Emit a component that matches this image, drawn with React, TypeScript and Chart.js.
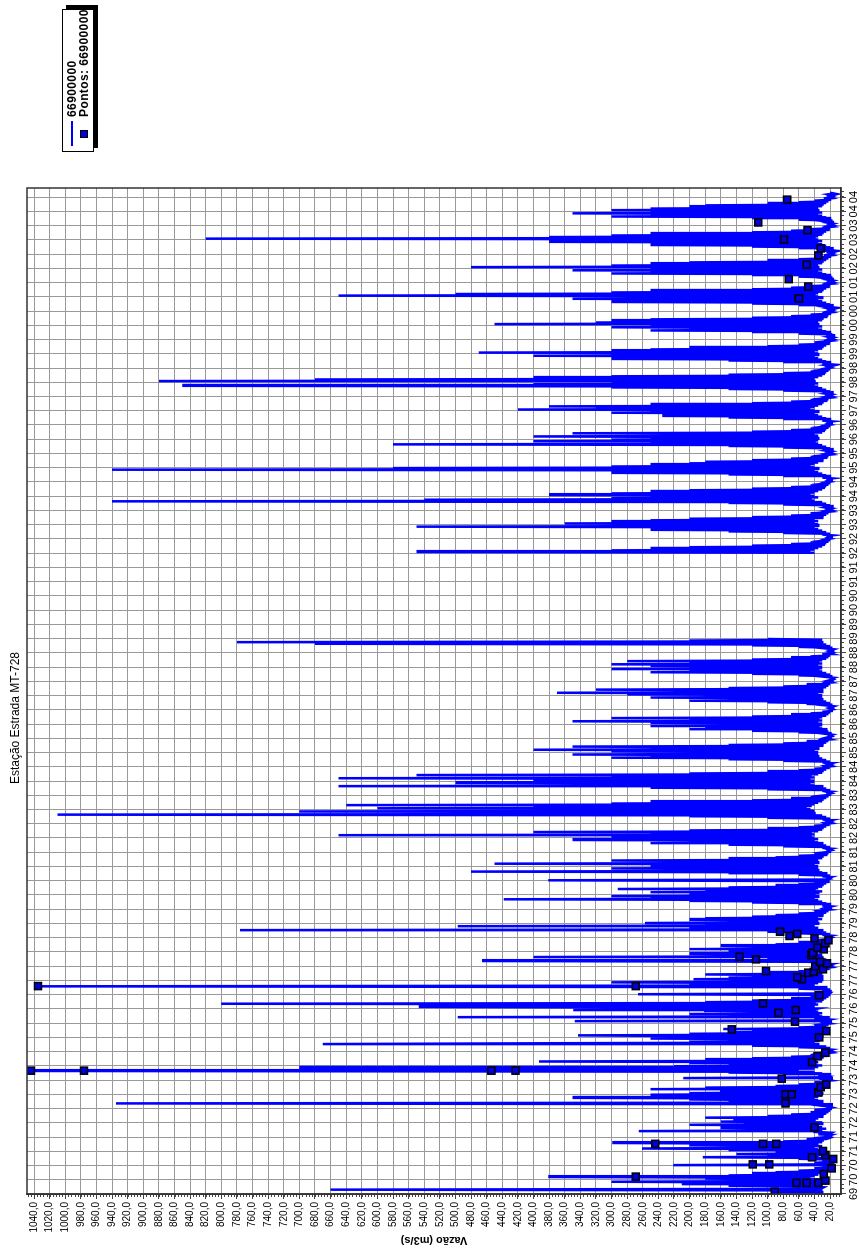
import React, { useEffect, useRef } from "react";
import { Chart, registerables } from "chart.js";
Chart.register(...registerables);

const TITLE = "Estação Estrada MT-728";
const SERIES_NAME = "66900000";
const POINTS_NAME = "Pontos: 66900000";
const Y_TITLE = "Vazão (m3/s)";

const X_MIN = 1969.5;
const X_MAX = 2004.82;
const X_STEP = 0.5;
const Y_MIN = 6;
const Y_MAX = 1049;
const Y_STEP = 20;

// daily-flow envelope, ~10-day slots per year
const Q1969 = [40, 30, 95, 40, 30, 660, 60, 30, 28, 45, 150, 35, 210, 40, 65, 300, 40, 28];
const Q1970 = [30, 180, 45, 381, 40, 150, 35, 120, 30, 90, 28, 60, 25, 22, 40, 20, 30, 19, 221, 20, 18, 40, 17, 18, 30, 16, 60, 22, 183, 35, 100, 30, 140, 28, 90, 30];
const Q1971 = [28, 150, 35, 261, 40, 120, 30, 200, 35, 90, 299, 30, 80, 28, 50, 25, 22, 30, 20, 22, 19, 35, 20, 18, 40, 265, 30, 110, 25, 160, 30, 90, 35, 200, 30, 130];
const Q1972 = [30, 160, 40, 120, 144, 35, 180, 30, 100, 28, 70, 25, 45, 22, 30, 20, 40, 19, 25, 18, 22, 30, 18, 60, 935, 60, 30, 150, 35, 200, 40, 350, 35, 170, 30, 250];
const Q1973 = [30, 200, 40, 150, 161, 35, 250, 30, 180, 28, 90, 25, 60, 22, 40, 20, 30, 19, 25, 18, 208, 25, 22, 35, 20, 80, 30, 150, 40, 1044, 60, 300, 40, 700, 35, 220];
const Q1974 = [30, 150, 40, 200, 35, 393, 40, 180, 30, 120, 28, 70, 25, 45, 22, 30, 20, 25, 19, 22, 18, 30, 20, 60, 25, 120, 35, 670, 395, 40, 200, 35, 150, 30, 250, 35];
const Q1975 = [30, 180, 343, 35, 200, 30, 150, 35, 120, 30, 157, 28, 60, 25, 40, 22, 30, 20, 25, 19, 347, 25, 20, 40, 22, 497, 30, 150, 35, 200, 30, 120, 35, 180, 349, 40];
const Q1976 = [35, 200, 547, 40, 250, 35, 800, 40, 180, 30, 120, 28, 70, 25, 45, 22, 30, 20, 266, 20, 19, 25, 18, 30, 20, 60, 25, 120, 1035, 80, 40, 200, 35, 300, 30, 150];
const Q1977 = [30, 195, 40, 150, 30, 120, 35, 180, 30, 100, 28, 60, 25, 40, 22, 30, 20, 25, 19, 22, 18, 30, 20, 50, 466, 40, 25, 100, 30, 400, 35, 160, 30, 200, 35, 150];
const Q1978 = [30, 150, 35, 200, 30, 120, 35, 160, 30, 90, 28, 60, 25, 40, 22, 30, 20, 25, 19, 22, 18, 30, 20, 60, 25, 100, 30, 776, 40, 200, 35, 150, 497, 40, 180, 35];
const Q1979 = [257, 40, 150, 35, 200, 30, 180, 35, 120, 30, 90, 28, 60, 25, 40, 22, 30, 20, 25, 19, 22, 18, 30, 20, 60, 25, 120, 30, 200, 35, 438, 40, 250, 35, 300, 40];
const Q1980 = [40, 200, 35, 250, 30, 180, 40, 292, 35, 150, 30, 90, 28, 60, 25, 40, 22, 30, 381, 25, 20, 22, 19, 30, 20, 60, 25, 150, 30, 480, 35, 200, 40, 300, 35, 250];
const Q1981 = [35, 250, 40, 450, 35, 200, 40, 300, 35, 150, 30, 90, 28, 60, 25, 40, 22, 30, 20, 25, 19, 22, 18, 30, 20, 80, 25, 150, 30, 250, 35, 200, 40, 350, 35, 200];
const Q1982 = [40, 300, 45, 650, 40, 250, 45, 400, 35, 200, 30, 100, 28, 60, 25, 40, 22, 30, 20, 25, 19, 22, 18, 30, 20, 100, 25, 200, 30, 1010, 40, 400, 45, 700, 40, 350];
const Q1983 = [45, 600, 50, 400, 45, 640, 40, 300, 35, 250, 30, 120, 28, 70, 25, 45, 22, 30, 20, 25, 19, 22, 18, 30, 20, 100, 25, 250, 30, 650, 40, 300, 45, 500, 40, 350];
const Q1984 = [40, 400, 45, 650, 40, 300, 45, 550, 35, 200, 30, 100, 28, 60, 25, 40, 22, 30, 20, 25, 19, 22, 18, 30, 20, 80, 25, 150, 30, 300, 35, 250, 40, 350, 35, 200];
const Q1985 = [35, 300, 40, 400, 35, 250, 40, 350, 30, 150, 28, 80, 25, 50, 22, 35, 20, 25, 19, 22, 18, 20, 17, 25, 18, 60, 22, 120, 25, 200, 30, 180, 35, 250, 30, 150];
const Q1986 = [30, 250, 35, 350, 30, 200, 35, 300, 30, 120, 25, 70, 22, 45, 20, 30, 18, 22, 17, 20, 16, 18, 15, 25, 17, 50, 20, 100, 25, 200, 30, 150, 35, 250, 30, 180];
const Q1987 = [30, 280, 35, 370, 30, 220, 35, 320, 30, 150, 25, 80, 22, 50, 20, 30, 18, 22, 17, 20, 16, 18, 15, 25, 17, 60, 20, 120, 25, 250, 30, 200, 35, 300, 30, 200];
const Q1988 = [30, 250, 35, 300, 30, 200, 35, 280, 30, 120, 25, 70, 22, 45, 20, 30, 18, 22, 17, 20, 16, 18, 15, 25, 17, 60, 20, 120, 25, 680, 30, 780, 35, 200, 30, 100];
const Q1992 = [40, 550, 45, 300, 40, 250, 35, 200, 30, 120, 28, 70, 25, 45, 22, 30, 20, 25, 19, 22, 18, 25, 17, 30, 20, 80, 25, 150, 30, 250, 35, 200, 40, 550, 35, 300];
const Q1993 = [35, 360, 40, 300, 35, 250, 40, 200, 30, 120, 28, 70, 25, 45, 22, 30, 20, 25, 19, 22, 18, 25, 17, 30, 20, 80, 25, 150, 30, 940, 40, 540, 45, 300, 35, 250];
const Q1994 = [40, 380, 45, 300, 40, 250, 35, 200, 30, 120, 28, 70, 25, 45, 22, 30, 20, 25, 19, 22, 18, 25, 17, 30, 20, 80, 25, 150, 30, 300, 35, 250, 40, 940, 35, 580];
const Q1995 = [40, 300, 45, 250, 40, 200, 35, 180, 30, 120, 28, 70, 25, 45, 22, 30, 20, 25, 19, 22, 18, 25, 17, 30, 20, 80, 25, 150, 30, 580, 35, 250, 40, 400, 35, 300];
const Q1996 = [35, 250, 40, 400, 35, 200, 40, 350, 30, 120, 28, 70, 25, 45, 22, 30, 20, 25, 19, 22, 18, 25, 17, 30, 20, 80, 25, 150, 30, 235, 35, 200, 40, 300, 35, 250];
const Q1997 = [40, 420, 45, 320, 40, 380, 35, 250, 30, 120, 28, 70, 25, 45, 22, 30, 20, 25, 19, 22, 18, 25, 17, 30, 20, 80, 25, 150, 30, 300, 35, 850, 40, 400, 35, 300];
const Q1998 = [40, 880, 45, 680, 40, 400, 35, 300, 30, 150, 28, 80, 25, 45, 22, 30, 20, 25, 19, 22, 18, 25, 17, 30, 20, 80, 25, 150, 30, 300, 35, 250, 40, 400, 35, 300];
const Q1999 = [35, 470, 40, 300, 35, 250, 30, 200, 28, 100, 25, 60, 22, 40, 20, 28, 18, 22, 17, 20, 16, 22, 15, 25, 17, 60, 20, 120, 25, 250, 30, 200, 35, 300, 30, 250];
const Q2000 = [35, 450, 40, 320, 35, 300, 30, 250, 28, 120, 25, 70, 22, 45, 20, 30, 18, 22, 17, 20, 16, 22, 15, 25, 17, 60, 20, 120, 25, 300, 30, 250, 35, 350, 30, 250];
const Q2001 = [35, 650, 40, 500, 35, 300, 30, 250, 28, 120, 25, 70, 22, 45, 20, 30, 18, 22, 17, 20, 16, 22, 15, 25, 17, 60, 20, 120, 25, 300, 30, 250, 35, 350, 30, 250];
const Q2002 = [35, 480, 40, 300, 35, 250, 30, 200, 28, 100, 25, 60, 22, 40, 20, 28, 18, 22, 17, 20, 16, 22, 15, 25, 17, 60, 20, 120, 25, 250, 30, 200, 35, 380, 30, 250];
const Q2003 = [35, 820, 40, 380, 35, 300, 30, 250, 28, 120, 25, 70, 22, 45, 20, 30, 18, 22, 17, 20, 16, 22, 15, 25, 17, 60, 20, 120, 25, 300, 30, 250, 35, 350, 30, 250];
const Q2004 = [35, 300, 40, 250, 35, 200, 30, 180, 28, 100, 25, 60, 22, 40, 20, 28, 18, 22, 17, 20, 16, 22, 15, 20];

// [start, end, values]
const SEGMENTS: [number, number, number[]][] = [
  [1969.5, 1970, Q1969], [1970, 1971, Q1970], [1971, 1972, Q1971], [1972, 1973, Q1972],
  [1973, 1974, Q1973], [1974, 1975, Q1974], [1975, 1976, Q1975], [1976, 1977, Q1976],
  [1977, 1978, Q1977], [1978, 1979, Q1978], [1979, 1980, Q1979], [1980, 1981, Q1980],
  [1981, 1982, Q1981], [1982, 1983, Q1982], [1983, 1984, Q1983], [1984, 1985, Q1984],
  [1985, 1986, Q1985], [1986, 1987, Q1986], [1987, 1988, Q1987], [1988, 1989, Q1988],
  [1992, 1993, Q1992], [1993, 1994, Q1993], [1994, 1995, Q1994], [1995, 1996, Q1995],
  [1996, 1997, Q1996], [1997, 1998, Q1997], [1998, 1999, Q1998], [1999, 2000, Q1999],
  [2000, 2001, Q2000], [2001, 2002, Q2001], [2002, 2003, Q2002], [2003, 2004, Q2003],
  [2004, 2004.67, Q2004],
];
const GAP_AT = 1990.5;

// measured points (Pontos)
const PTS_T = [1969.58, 1969.89, 1969.89, 1969.89, 1969.97, 1970.11, 1970.2, 1970.4, 1970.54, 1970.54, 1970.73, 1970.79, 1970.87, 1971.01, 1971.26, 1971.26, 1971.26, 1971.84, 1972.68, 1973.0, 1973.0, 1973.07, 1973.25, 1973.34, 1973.55, 1973.83, 1973.83, 1973.83, 1973.83, 1974.13, 1974.34, 1974.46, 1975.0, 1975.22, 1975.28, 1975.55, 1975.86, 1975.96, 1976.19, 1976.48, 1976.8, 1976.8, 1977.04, 1977.11, 1977.27, 1977.3, 1977.33, 1977.39, 1977.5, 1977.6, 1977.65, 1977.74, 1977.83, 1977.89, 1977.97, 1978.09, 1978.15, 1978.3, 1978.41, 1978.48, 1978.56, 1978.63, 1978.71, 2000.94, 2001.36, 2001.62, 2002.13, 2002.45, 2002.7, 2003.01, 2003.34, 2003.61, 2004.41];
const PTS_V = [91, 63, 50, 35, 26, 269, 28, 18, 119, 98, 16, 43, 26, 29, 244, 106, 89, 40, 77, 77, 69, 35, 32, 25, 82, 1044, 976, 454, 423, 43, 36, 26, 34, 25, 146, 65, 86, 64, 106, 34, 1035, 269, 56, 62, 48, 41, 102, 29, 39, 24, 33, 115, 136, 44, 42, 28, 36, 26, 22, 40, 72, 62, 84, 60, 48, 73, 50, 35, 32, 79, 49, 112, 75];

const FONT = "'Liberation Sans', Arial, Helvetica, sans-serif";

const frame = {
  id: "frame",
  afterDraw(chart: any) {
    const { ctx, chartArea: a, scales } = chart;
    const xs = scales.x, ys = scales.y;
    ctx.save();
    ctx.strokeStyle = "#444";
    ctx.lineWidth = 1;
    ctx.beginPath();
    for (let i = 0; ; i++) {
      const v = X_MIN + i / 6;
      if (v > X_MAX) break;
      const px = Math.round(xs.getPixelForValue(v)) + 0.5;
      ctx.moveTo(px, a.bottom);
      ctx.lineTo(px, a.bottom + 3);
    }
    for (let v = 8; v <= Y_MAX; v += 4) {
      if (v < Y_MIN) continue;
      const py = Math.round(ys.getPixelForValue(v)) + 0.5;
      ctx.moveTo(a.left, py);
      ctx.lineTo(a.left - 3, py);
    }
    ctx.stroke();
    ctx.strokeStyle = "#333";
    ctx.lineWidth = 1.5;
    ctx.strokeRect(a.left, a.top, a.right - a.left, a.bottom - a.top);
    ctx.restore();
  },
};

export default function App() {
  const ref = useRef<HTMLCanvasElement | null>(null);
  useEffect(() => {
    if (!ref.current) return;
    const line: any[] = [];
    for (const [a, b, vals] of SEGMENTS) {
      if (a === 1992) line.push({ x: GAP_AT, y: null });
      const n = vals.length;
      vals.forEach((v, k) => line.push({ x: a + ((k + 0.5) * (b - a)) / n, y: v }));
    }
    const pts = PTS_T.map((t, i) => ({ x: t, y: PTS_V[i] }));
    const chart = new Chart(ref.current, {
      type: "line",
      data: {
        datasets: [
          {
            label: POINTS_NAME,
            data: pts,
            showLine: false,
            pointStyle: "rect",
            pointRadius: 5,
            pointBackgroundColor: "#0000d8",
            pointBorderColor: "#000",
            pointBorderWidth: 1.5,
          } as any,
          {
            label: SERIES_NAME,
            data: line,
            borderColor: "#0000ff",
            borderWidth: 2.5,
            pointRadius: 0,
            tension: 0,
            spanGaps: false,
          },
        ],
      },
      options: {
        animation: false,
        responsive: false,
        devicePixelRatio: 1,
        layout: { padding: { top: 27, right: 188, left: 0, bottom: 0 } },
        plugins: { legend: { display: false }, tooltip: { enabled: false }, title: { display: false } },
        scales: {
          x: {
            type: "linear",
            min: X_MIN,
            max: X_MAX,
            afterFit: (s: any) => { s.height = 18; },
            ticks: {
              stepSize: X_STEP,
              includeBounds: false,
              autoSkip: false,
              maxRotation: 0,
              minRotation: 0,
              padding: 1,
              color: "#000",
              font: { family: FONT, size: 11 },
              callback: (v: any) => String(Math.floor(Number(v) + 1e-6) % 100).padStart(2, "0"),
            },
            grid: { color: "#999", lineWidth: 1, tickLength: 5, tickColor: "#444" },
            border: { display: true, color: "#333", width: 1.5 },
          },
          y: {
            type: "linear",
            min: Y_MIN,
            max: Y_MAX,
            afterFit: (s: any) => { s.width = 58; },
            ticks: {
              stepSize: Y_STEP,
              includeBounds: false,
              autoSkip: false,
              padding: 3,
              color: "#000",
              font: { family: FONT, size: 10 },
              callback: (v: any) => Number(v).toFixed(1).replace(".", ","),
            },
            grid: { color: "#999", lineWidth: 1, tickLength: 5, tickColor: "#444" },
            border: { display: true, color: "#333", width: 1.5 },
            title: {
              display: true,
              text: Y_TITLE,
              color: "#000",
              font: { family: FONT, size: 11, weight: "bold" },
              padding: { top: 5, bottom: 0 },
            },
          },
        },
      },
      plugins: [frame],
    });
    return () => chart.destroy();
  }, []);

  return (
    <div
      style={{
        position: "fixed",
        left: 0,
        top: 0,
        width: 1252,
        height: 859,
        transformOrigin: "0 0",
        transform: "translateY(1252px) rotate(-90deg)",
        background: "#fff",
        fontFamily: FONT,
      }}
    >
      <canvas ref={ref} width={1252} height={859} style={{ position: "absolute", left: 0, top: 0 }} />
      <div style={{ position: "absolute", right: 1252 - 600, top: 8, fontSize: 12, color: "#000", whiteSpace: "nowrap" }}>
        {TITLE}
      </div>
      <div
        style={{
          position: "absolute",
          left: 1100,
          top: 62,
          width: 141,
          height: 30,
          border: "1px solid #000",
          background: "#fff",
          boxShadow: "4px 4px 0 #000",
          fontWeight: "bold",
          fontSize: 12,
          letterSpacing: 0.4,
          color: "#000",
        }}
      >
        <div style={{ position: "absolute", left: 5, top: 8, width: 25, height: 0, borderTop: "2px solid #0000ff" }} />
        <div style={{ position: "absolute", left: 34, top: 2, whiteSpace: "nowrap" }}>{SERIES_NAME}</div>
        <div style={{ position: "absolute", left: 13, top: 17, width: 6, height: 6, background: "#0000d8", border: "1px solid #000" }} />
        <div style={{ position: "absolute", left: 34, top: 14, whiteSpace: "nowrap" }}>{POINTS_NAME}</div>
      </div>
    </div>
  );
}
